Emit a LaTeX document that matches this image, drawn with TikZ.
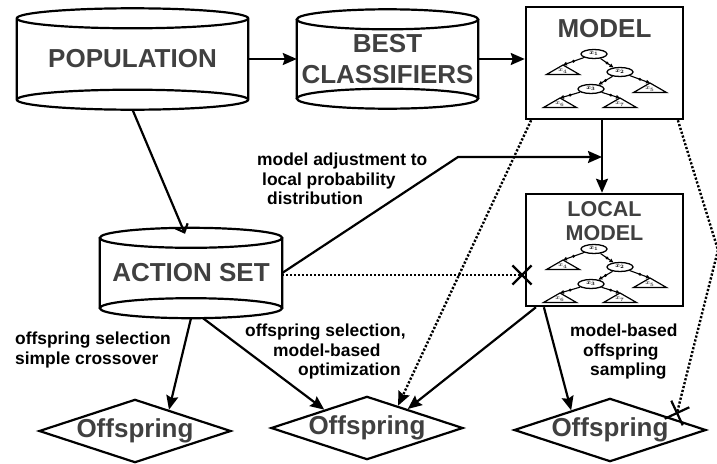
\documentclass[tikz,border=0pt]{standalone}
\usepackage{fontspec}
\setmainfont{Liberation Sans}
\usepackage{amsmath,bm}
\usetikzlibrary{calc, positioning, shapes.geometric, shapes.misc, arrows.meta}
\definecolor{boxgray}{RGB}{64,64,64}

\tikzset{
  line/.style={line width=2.2pt},
  arr/.style={line width=2.2pt, -{Stealth[length=14pt,width=12pt,inset=2pt]}},
  dotline/.style={line width=2.4pt, dash pattern=on 2.2pt off 1.8pt},
  dotarr/.style={dotline, -{Stealth[length=14pt,width=12pt,inset=2pt]}},
  bigtext/.style={font=\bfseries\fontsize{26}{30.5}\selectfont, text=boxgray, align=center, inner sep=0pt},
  drum/.style={bigtext, minimum width=#1},
  modelbox/.style={draw, line width=2.5pt, minimum width=157pt, minimum height=112pt, inner sep=0pt},
  offspring/.style={diamond, draw, line width=2.2pt, aspect=3, inner sep=0pt,
    minimum width=192pt, minimum height=63pt, font=\bfseries\fontsize{26}{30}\selectfont, text=boxgray},
  note/.style={font=\bfseries\fontsize{17.4}{19.5}\selectfont, align=left, inner sep=0pt, anchor=north west},
  crossmark/.style={cross out, draw, line width=2.2pt, minimum size=17pt, inner sep=0pt},
  % the little trees inside the model boxes
  treenode/.style={ellipse, draw, line width=1.3pt, minimum width=26pt, minimum height=9pt,
    inner sep=0pt, font=\bfseries\fontsize{6}{6}\selectfont},
  leafline/.style={line width=1.2pt, fill=white},
  leaftext/.style={inner sep=0pt, font=\bfseries\fontsize{6}{6}\selectfont, text=boxgray},
  treearr/.style={line width=1.1pt, -{Triangle[length=4pt,width=3.6pt]}},
  treedot/.style={circle, fill, inner sep=0pt, minimum size=3.2pt}
}

% outline of a drum around a node
\newcommand{\drumoutline}[1]{%
  \draw[line] let \p1=($(#1.east)-(#1.west)$) in
    ([yshift=-10pt]#1.north) ellipse [x radius=0.5*\x1, y radius=10pt]
    ([yshift=10pt]#1.south) ellipse [x radius=0.5*\x1, y radius=10pt]
    ([yshift=-10pt]#1.north west) -- ([yshift=10pt]#1.south west)
    ([yshift=-10pt]#1.north east) -- ([yshift=10pt]#1.south east);}

% one leaf of a tree: name, apex, label
\newcommand{\leaf}[3]{%
  \coordinate (#1) at #2;
  \draw[leafline] (#1) -- ++(-16.5,9.5) -- ++(33,0) -- cycle;
  \node[leaftext] (#1t) at ([yshift=-6.2pt]#1) {#3};}

% a small decision tree
\newcommand{\smalltree}{%
  \node[treenode] (r) at (594,54) {$\boldsymbol{x_1}$};
  \node[treenode] (n2) at (620,72) {$\boldsymbol{x_2}$};
  \node[treenode] (n3) at (591,89) {$\boldsymbol{x_3}$};
  \leaf{la}{(563,65)}{$\boldsymbol{x_4}$}
  \leaf{lb}{(650,83)}{$\boldsymbol{x_5}$}
  \leaf{lc}{(560,98)}{$\boldsymbol{x_6}$}
  \leaf{ld}{(620,98)}{$\boldsymbol{x_7}$}
  \foreach \a/\b in {r/la, r/n2, n2/n3, n2/lb, n3/lc, n3/ld}
    \draw[treearr] (\a) -- node[treedot] (d\a\b) {} (\b);}

\begin{document}
\begin{tikzpicture}[x=1pt, y=-1pt]
    \useasboundingbox (0,0) rectangle (717,463);

    % Draw the drums
    \node[drum=231pt, minimum height=101pt] (pop) at (132.5,59) {POPULATION};
    \drumoutline{pop}
    \node[drum=181pt, minimum height=99pt] (best) at (387.5,59) {BEST\\CLASSIFIERS};
    \drumoutline{best}
    \node[drum=182pt, minimum height=90pt] (act) at (191,273) {ACTION SET};
    \drumoutline{act}

    % Draw the model boxes
    \node[modelbox] (model) at (604.5,63) {};
    \node[bigtext, below=13.5pt of model.north] (modeltitle) {MODEL};
    \node[modelbox] (local) at (604.5,250) {};
    \node[bigtext, font=\bfseries\fontsize{21.5}{24}\selectfont, below=9pt of local.north] (localtitle) {LOCAL\\MODEL};
    \begin{scope}[name prefix=m-]
        \smalltree
    \end{scope}
    \begin{scope}[shift={(0,195)}, name prefix=l-]
        \smalltree
    \end{scope}

    % Draw the offspring
    \node[offspring] (off1) at (135,431) {Offspring};
    \node[offspring] (off2) at (367,428) {Offspring};
    \node[offspring] (off3) at (610,430) {Offspring};

    % Crosses
    \node[crossmark] (xa) at (522,275) {};
    \node[crossmark, rotate=-20] (xb) at (677,413) {};
    \coordinate (bend) at (458,157);
    \coordinate (turn) at (718,250);

    % Arrows
    \draw[arr] (pop.east) -- (best.west |- pop.east);
    \draw[arr] (best.east) -- (best.east -| model.west);
    \draw[arr] (model.south -| 602,0) -- (local.north -| 602,0);
    \draw[line, -{Straight Barb[length=7pt,width=13pt]}] (pop.south) -- ([xshift=-6pt,yshift=-6pt]act.north);
    \draw[arr] (act.east) -- (bend) -- (bend -| 602,0);
    \draw[arr] (act.south) -- ($(off1.north)!0.35!(off1.east)$);
    \draw[arr] ([xshift=12pt]act.south) -- ($(off2.west)!0.56!(off2.north)$);
    \draw[arr] ($(local.south west)!0.07!(local.south east)$) -- ($(off2.north)!0.42!(off2.east)$);
    \draw[arr] ($(local.south west)!0.12!(local.south east)$) -- ($(off3.west)!0.6!(off3.north)$);

    % Dotted links
    \draw[dotline] (act.east |- xa) -- (xa.center);
    \draw[dotarr] ($(model.south west)!0.04!(model.south east)$) -- ($(off2.north)!0.32!(off2.east)$);
    \draw[dotline] ($(model.south west)!0.96!(model.south east)$) -- (turn) -- (xb.center);

    % Label the arrows
    \node[note] (adjnote) at (257,153) {model adjustment to\\\hspace*{5pt}local probability\\\hspace*{10pt}distribution};
    \node[note] (crossnote) at (15,332) {offspring selection\\simple crossover};
    \node[note] (optnote) at (245,324) {offspring selection,\\\hspace*{28pt}model-based\\\hspace*{53pt}optimization};
    \node[note] (sampnote) at (570,324) {model-based\\\hspace*{13pt}offspring\\\hspace*{20pt}sampling};

\end{tikzpicture}
\end{document}
